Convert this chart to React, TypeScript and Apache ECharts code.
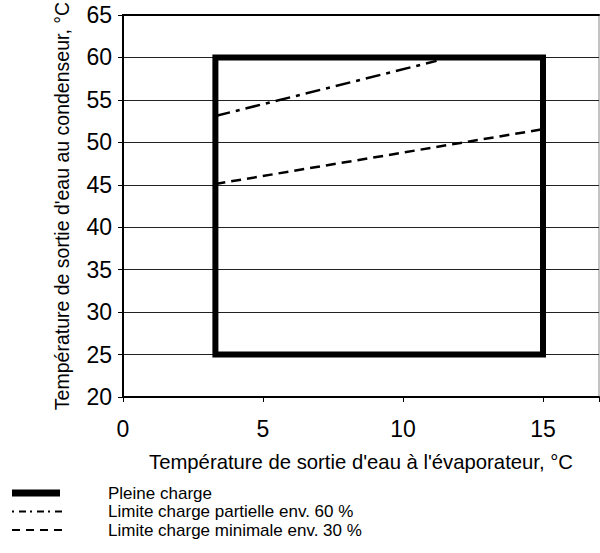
import React, { useEffect, useRef } from "react";
import * as echarts from "echarts";

const xTicks = [0, 5, 10, 15];
const yTicks = [20, 25, 30, 35, 40, 45, 50, 55, 60, 65];
const pleineCharge: [number, number][] = [
  [3.3, 25],
  [15, 25],
  [15, 60],
  [3.3, 60],
  [3.3, 25],
];
const partielle60: [number, number][] = [
  [3.3, 53.1],
  [11.2, 59.6],
];
const minimale30: [number, number][] = [
  [3.3, 45.1],
  [15, 51.55],
];
const legendLabels = [
  "Pleine charge",
  "Limite charge partielle env. 60 %",
  "Limite charge minimale env. 30 %",
];
const xName = "Température de sortie d'eau à l'évaporateur, °C";
const yName = "Température de sortie d'eau au condenseur, °C";

const FONT = "'Liberation Sans', Arial, sans-serif";

export default function App() {
  const ref = useRef<HTMLDivElement>(null);
  useEffect(() => {
    if (!ref.current) return;
    const chart = echarts.init(ref.current, null, { renderer: "svg" });
    const legendY = [493, 511.5, 530];
    chart.setOption({
      animation: false,
      backgroundColor: "#fff",
      textStyle: { fontFamily: FONT },
      grid: {
        left: 123,
        right: 1,
        top: 15,
        bottom: 156,
        show: true,
        borderColor: "#888",
        borderWidth: 1,
        containLabel: false,
        outerBoundsMode: "none",
      },
      xAxis: [
        {
          type: "value",
          min: xTicks[0],
          max: 17,
          interval: 5,
          name: xName,
          nameLocation: "middle",
          nameGap: 55,
          nameTextStyle: { fontSize: 20.3, color: "#000", fontFamily: FONT },
          axisLine: { show: true, lineStyle: { color: "#000", width: 2 } },
          axisTick: { show: true, length: 5, lineStyle: { color: "#000" } },
          axisLabel: {
            fontSize: 23,
            color: "#000",
            margin: 20,
            fontFamily: FONT,
            formatter: (v: number) => (xTicks.includes(v) ? String(v) : ""),
          },
          splitLine: { show: false },
        },
        {
          type: "value",
          position: "top",
          min: xTicks[0],
          max: 17,
          interval: 5,
          axisLine: { show: true, lineStyle: { color: "#000", width: 2 } },
          axisTick: { show: false },
          axisLabel: { show: false },
          splitLine: { show: false },
        },
      ],
      yAxis: {
        type: "value",
        min: yTicks[0],
        max: yTicks[yTicks.length - 1],
        interval: 5,
        name: yName,
        nameLocation: "middle",
        nameGap: 51,
        nameTextStyle: { fontSize: 19.5, color: "#000", fontFamily: FONT },
        axisLine: { show: true, lineStyle: { color: "#000", width: 2 } },
        axisTick: { show: true, length: 5, lineStyle: { color: "#000" } },
        axisLabel: { fontSize: 23, color: "#000", margin: 11, fontFamily: FONT },
        splitLine: { show: true, lineStyle: { color: "#222", width: 1 } },
      },
      series: [
        {
          type: "line",
          data: pleineCharge,
          symbol: "none",
          lineStyle: { color: "#000", width: 6, join: "miter", cap: "square" },
          z: 3,
        },
        {
          type: "line",
          data: partielle60,
          symbol: "none",
          lineStyle: { color: "#000", width: 2.5, type: [15, 6, 4, 6] },
          z: 2,
        },
        {
          type: "line",
          data: minimale30,
          symbol: "none",
          lineStyle: { color: "#000", width: 2.5, type: [10, 6] },
          z: 2,
        },
      ],
      graphic: [
        {
          type: "line",
          shape: { x1: 12, y1: legendY[0], x2: 60, y2: legendY[0] },
          style: { stroke: "#000", lineWidth: 7 },
        },
        {
          type: "line",
          shape: { x1: 12, y1: legendY[1], x2: 62, y2: legendY[1] },
          style: { stroke: "#000", lineWidth: 2, lineDash: [2, 5, 7, 4] },
        },
        {
          type: "line",
          shape: { x1: 12, y1: legendY[2], x2: 62, y2: legendY[2] },
          style: { stroke: "#000", lineWidth: 2, lineDash: [8, 6] },
        },
        ...legendLabels.map((t, i) => ({
          type: "text",
          x: 108,
          y: legendY[i],
          style: {
            text: t,
            fontSize: 17,
            lineHeight: 17,
            fontFamily: FONT,
            fill: "#000",
            verticalAlign: "middle",
          },
        })),
      ],
    });
    return () => chart.dispose();
  }, []);
  return (
    <div
      ref={ref}
      style={{ position: "absolute", left: 0, top: 0, width: 600, height: 553 }}
    />
  );
}
